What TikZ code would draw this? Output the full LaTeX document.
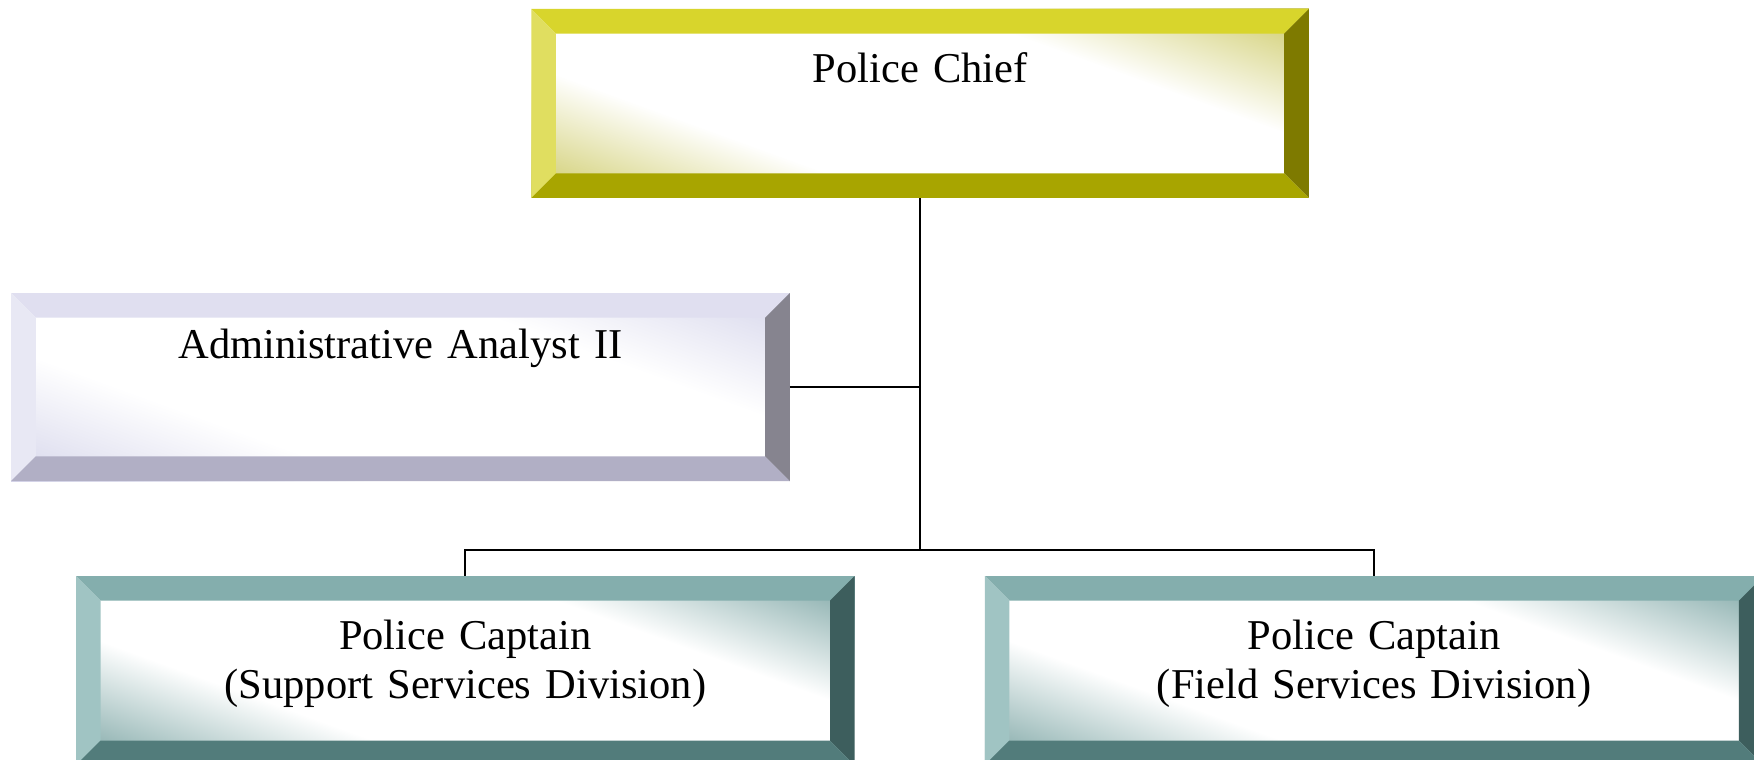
\documentclass[tikz,border=0pt]{standalone}
\usepackage{fontspec}
\setmainfont{Liberation Serif}
\usetikzlibrary{positioning}

\definecolor{chieftop}{HTML}{D8D52C}
\definecolor{chiefleft}{HTML}{E0DE60}
\definecolor{chiefright}{HTML}{7E7A00}
\definecolor{chiefbot}{HTML}{A8A500}
\definecolor{chieftint}{HTML}{CFCC6C}
\definecolor{admintop}{HTML}{E0DFF0}
\definecolor{adminleft}{HTML}{E8E8F4}
\definecolor{adminright}{HTML}{86848F}
\definecolor{adminbot}{HTML}{B1AFC5}
\definecolor{admintint}{HTML}{D8D8EC}
\definecolor{capttop}{HTML}{84AEAD}
\definecolor{captleft}{HTML}{A0C4C3}
\definecolor{captright}{HTML}{3D5E5D}
\definecolor{captbot}{HTML}{527C7B}
\definecolor{capttint}{HTML}{7FA7A6}

% white band across the face, tint in two corners
\pgfdeclareverticalshading{chiefshade}{100bp}{color(0bp)=(chieftint); color(19bp)=(chieftint); color(36bp)=(white); color(64bp)=(white); color(81bp)=(chieftint); color(100bp)=(chieftint)}
\pgfdeclareverticalshading{adminshade}{100bp}{color(0bp)=(admintint); color(19bp)=(admintint); color(36bp)=(white); color(64bp)=(white); color(81bp)=(admintint); color(100bp)=(admintint)}
\pgfdeclareverticalshading{captshade}{100bp}{color(0bp)=(capttint); color(19bp)=(capttint); color(36bp)=(white); color(64bp)=(white); color(81bp)=(capttint); color(100bp)=(capttint)}

% the four bevel faces of a card: top, left, right, bottom
\newcommand{\bevelfaces}[4]{%
  \coordinate (bnw) at (path picture bounding box.north west);
  \coordinate (bne) at (path picture bounding box.north east);
  \coordinate (bsw) at (path picture bounding box.south west);
  \coordinate (bse) at (path picture bounding box.south east);
  \fill[#1] (bnw) -- (bne) -- ([shift={(-22pt,-22pt)}]bne) -- ([shift={(22pt,-22pt)}]bnw) -- cycle;
  \fill[#2] (bnw) -- (bsw) -- ([shift={(22pt,22pt)}]bsw) -- ([shift={(22pt,-22pt)}]bnw) -- cycle;
  \fill[#3] (bne) -- (bse) -- ([shift={(-22pt,22pt)}]bse) -- ([shift={(-22pt,-22pt)}]bne) -- cycle;
  \fill[#4] (bsw) -- (bse) -- ([shift={(-22pt,22pt)}]bse) -- ([shift={(22pt,22pt)}]bsw) -- cycle;
}

\tikzstyle{card} = [rectangle, minimum width=696pt, minimum height=169pt, inner sep=0pt, text width=640pt, align=center, text height=26pt, text depth=63pt, font=\fontsize{38}{43}\selectfont]
\tikzstyle{chiefcard} = [card, shade, shading=chiefshade, shading angle=-20, path picture={\bevelfaces{chieftop}{chiefleft}{chiefright}{chiefbot}}]
\tikzstyle{admincard} = [card, shade, shading=adminshade, shading angle=-20, path picture={\bevelfaces{admintop}{adminleft}{adminright}{adminbot}}]
\tikzstyle{captcard} = [card, shade, shading=captshade, shading angle=-20, path picture={\bevelfaces{capttop}{captleft}{captright}{captbot}}]
\tikzstyle{line} = [draw, line width=1.6pt]

\begin{document}
\begin{tikzpicture}[x=1pt, y=-1pt, node distance=116pt]
        \useasboundingbox (0,0) rectangle (1568,679);
        \clip (0,0) rectangle (1568,679);

        % Nodes
        \node [chiefcard, minimum width=695pt] (chief) at (822.5,92.5) {Police Chief};
        \node [admincard, minimum height=168pt, text depth=77pt] (analyst) at (358,346) {Administrative Analyst II};
        \node [captcard] (support) at (416,599.5) {Police Captain\\(Support Services Division)};
        \node [captcard, right=of support] (field) {Police Captain\\(Field Services Division)};
        \coordinate (bus) at (chief.south |- 0,492);

        % Lines
        \path [line] (chief.south) -- (bus);
        \path [line] (analyst.east) -- (analyst.east -| chief.south);
        \path [line] (support.north) |- (bus) -| (field.north);
\end{tikzpicture}
\end{document}
